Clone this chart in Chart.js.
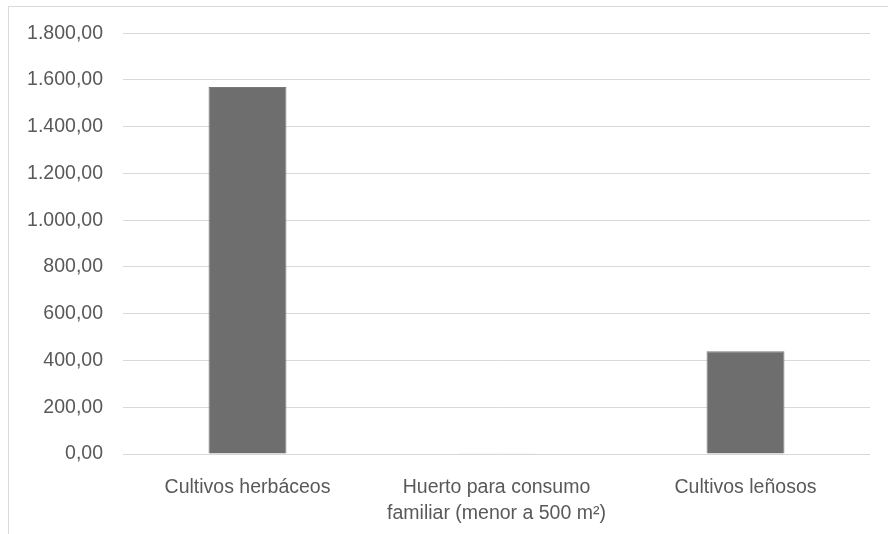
<!DOCTYPE html>
<html>
<head>
<meta charset="utf-8">
<script src="https://cdn.jsdelivr.net/npm/chart.js@4.4.1/dist/chart.umd.min.js"></script>
<style>
  html, body { margin: 0; padding: 0; background: #fff; overflow: hidden; }
  .frame { position: absolute; left: 8px; top: 6px; width: 900px; height: 540px; border: 1px solid #d9d9d9; }
  .wrap { position: absolute; left: 0; top: 0; width: 888px; height: 534px; }
</style>
</head>
<body>
<div class="frame"></div>
<div class="wrap"><canvas id="chart" width="888" height="534"></canvas></div>
<script>
const categories = [
  'Cultivos herbáceos',
  ['Huerto para consumo', 'familiar (menor a 500 m²)'],
  'Cultivos leñosos'
];
const values = [1570, 1, 440];
const yMax = 1800;
const yStep = 200;

// 1.800,00 style numbers
function fmt(v) {
  const parts = v.toFixed(2).split('.');
  const int = parts[0].replace(/\B(?=(\d{3})+(?!\d))/g, '.');
  return int + ',' + parts[1];
}

const font = { family: '"Liberation Sans", Arial, sans-serif', size: 19.5, lineHeight: 1.35 };

new Chart(document.getElementById('chart'), {
  type: 'bar',
  data: {
    labels: categories,
    datasets: [{
      data: values,
      backgroundColor: '#6e6e6e',
      borderColor: '#7a7a7a',
      borderWidth: 1,
      barPercentage: 0.313,
      categoryPercentage: 1
    }]
  },
  options: {
    responsive: false,
    animation: false,
    layout: { padding: { top: 33, right: 18, bottom: 0, left: 0 } },
    plugins: { legend: { display: false }, tooltip: { enabled: false } },
    scales: {
      x: {
        grid: { display: false },
        border: { display: false },
        ticks: { color: '#595959', font, padding: 12, maxRotation: 0, autoSkip: false },
        afterFit: s => { s.height = 80; }
      },
      y: {
        min: 0,
        max: yMax,
        ticks: { stepSize: yStep, color: '#595959', font, padding: 20, callback: v => fmt(v) },
        grid: { color: '#d9d9d9', lineWidth: 1, drawTicks: false },
        border: { display: false },
        afterFit: s => { s.width = 123; }
      }
    }
  }
});
</script>
</body>
</html>
